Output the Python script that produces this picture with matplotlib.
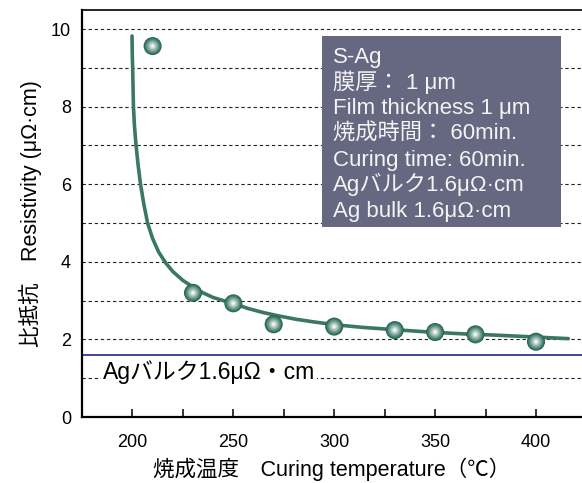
import numpy as np
import matplotlib
matplotlib.use("Agg")
import matplotlib.pyplot as plt
from matplotlib.patches import Rectangle
from matplotlib.ticker import MultipleLocator

plt.rcParams['font.family'] = ['Liberation Sans', 'Noto Sans CJK JP', 'DejaVu Sans']

# measured points
temp = [210, 230, 250, 270, 300, 330, 350, 370, 400]
resist = [9.56, 3.20, 2.93, 2.39, 2.33, 2.24, 2.19, 2.13, 1.94]

# fitted curve
fit_x = [199.8, 199.9, 200.1, 200.5, 201.0, 201.8, 202.8, 204.0, 205.6, 207.5, 210.0,
         213.0, 216.5, 220.0, 225.0, 230.0, 235.0, 240.0, 245.0, 250.0, 257.0,
         265.0, 273.0, 281.0, 290.0, 300.0, 314.0, 330.0, 347.0, 365.0, 380.0,
         400.0, 416.0]
fit_y = [9.82, 9.40, 9.00, 8.00, 7.50, 7.00, 6.50, 6.00, 5.50, 5.00, 4.60,
         4.25, 3.97, 3.75, 3.52, 3.35, 3.20, 3.08, 3.00, 2.93, 2.80,
         2.69, 2.60, 2.52, 2.45, 2.38, 2.31, 2.25, 2.19, 2.14, 2.11,
         2.06, 2.02]

ag_bulk = 1.6
info_lines = ["S-Ag", "膜厚： 1 μm", "Film thickness 1 μm", "焼成時間： 60min.",
              "Curing time: 60min.", "Agバルク1.6μΩ·cm", "Ag bulk 1.6μΩ·cm"]

fig = plt.figure(figsize=(5.82, 4.83), dpi=100)
ax = fig.add_axes([82/582, 66/483, 500/582, 407/483])
ax.set_xlim(175, 422.8)
ax.set_ylim(0, 10.49)

ax.set_yticks(range(0, 11, 2))
ax.yaxis.set_minor_locator(MultipleLocator(1))
ax.set_xticks(range(200, 401, 50))
ax.xaxis.set_minor_locator(MultipleLocator(25))
ax.grid(axis='y', which='both', color='#222222', lw=0.8, ls=(0, (3, 2.5)), zorder=0)

ax.spines['right'].set_visible(False)
ax.spines['left'].set_linewidth(1.6)
ax.spines['bottom'].set_linewidth(1.6)
ax.spines['top'].set_linewidth(1.2)
ax.tick_params(axis='y', which='both', length=0, pad=8, labelsize=13)
ax.tick_params(axis='x', which='both', direction='in', length=6, width=1.1, pad=12, labelsize=13)

ax.axhline(ag_bulk, color='#35359a', lw=1.3, zorder=2)
ax.text(185.5, 0.97, "Agバルク1.6μΩ・cm", fontsize=16.5, va='baseline', ha='left',
        bbox=dict(facecolor='white', edgecolor='none', pad=1.5), zorder=3)

ax.plot(fit_x, fit_y, color='#3b7762', lw=2.6, solid_capstyle='round', zorder=4)

# shaded ball markers
shades = np.linspace(0, 1, 12)
c0 = np.array([0.14, 0.40, 0.33])
for i, t in enumerate(shades):
    col = c0 + (np.array([1, 1, 1]) - c0) * t ** 1.1
    size = (13.0 * (1 - 0.92 * t)) ** 2
    ax.scatter(temp, resist, s=size, color=col, edgecolors='none', zorder=5 + i * 0.01)

ax.add_patch(Rectangle((0.48, 0.4676), 0.478, 0.4684, transform=ax.transAxes,
                       facecolor='#666780', edgecolor='none', zorder=6))
for i, line in enumerate(info_lines):
    ax.text(0.502, 0.870 - i * 0.0631, line, transform=ax.transAxes, color='#f4f4f4',
            fontsize=16, va='baseline', ha='left', zorder=7)

ax.set_xlabel("焼成温度　Curing temperature（℃）", fontsize=15.5, labelpad=5)
ax.set_ylabel("比抵抗　Resistivity (μΩ·cm)", fontsize=15.5, labelpad=6)

fig.savefig("out.png", dpi=100)
